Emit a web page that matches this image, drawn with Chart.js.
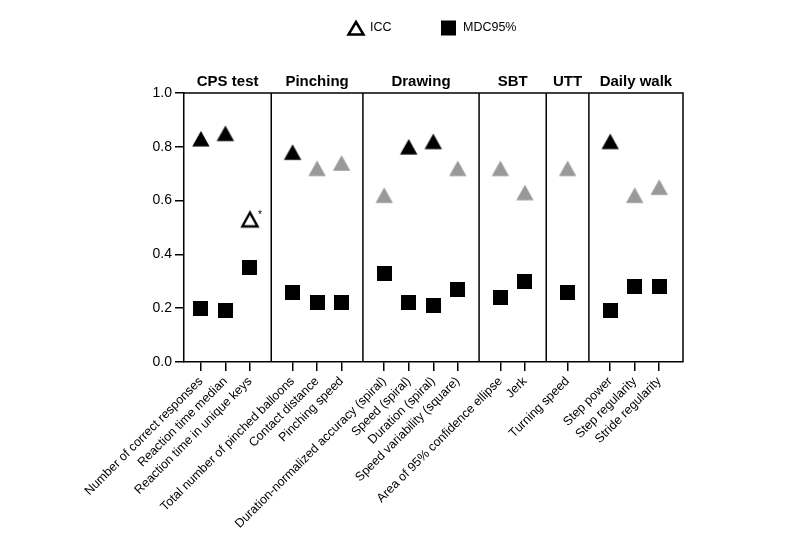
<!DOCTYPE html>
<html>
<head>
<meta charset="utf-8">
<script src="https://cdn.jsdelivr.net/npm/chart.js@4.4.1/dist/chart.umd.min.js"></script>
<style>
  html, body { margin: 0; padding: 0; background: #fff; }
  #wrap { width: 800px; height: 549px; }
</style>
</head>
<body>
<div id="wrap"><canvas id="myChart" width="800" height="549"></canvas></div>
<script>
// data
var groups = ['CPS test', 'Pinching', 'Drawing', 'SBT', 'UTT', 'Daily walk'];
var groupSizes = [3, 3, 4, 2, 1, 3];
var categories = [
    'Number of correct responses', 'Reaction time median', 'Reaction time in unique keys',
    'Total number of pinched balloons', 'Contact distance', 'Pinching speed',
    'Duration-normalized accuracy (spiral)', 'Speed (spiral)', 'Duration (spiral)', 'Speed variability (square)',
    'Area of 95% confidence ellipse', 'Jerk',
    'Turning speed',
    'Step power', 'Step regularity', 'Stride regularity'
];
var icc = [0.83, 0.85, 0.53, 0.78, 0.72, 0.74, 0.62, 0.80, 0.82, 0.72, 0.72, 0.63, 0.72, 0.82, 0.62, 0.65];
var mdc = [0.20, 0.19, 0.35, 0.26, 0.22, 0.22, 0.33, 0.22, 0.21, 0.27, 0.24, 0.30, 0.26, 0.19, 0.28, 0.28];
// 'black' / 'grey' / 'open' (open one carries an asterisk)
var iccKind = ['black', 'black', 'open', 'black', 'grey', 'grey', 'grey', 'black', 'black', 'grey', 'grey', 'grey', 'grey', 'black', 'grey', 'grey'];
var yTicks = [0, 0.2, 0.4, 0.6, 0.8, 1.0];

var groupGap = 0.74;
var fontFam = '"Liberation Sans", Arial, Helvetica, sans-serif';
Chart.defaults.font.family = fontFam;
Chart.defaults.color = '#000';

// x position of each category: index plus an extra gap per group boundary
var groupOf = [];
groupSizes.forEach(function(n, g) { for (var k = 0; k < n; k++) groupOf.push(g); });
var xPos = categories.map(function(c, i) { return i + groupOf[i] * groupGap; });

function markerCanvas(kind) {
    var c = document.createElement('canvas');
    var ctx = c.getContext('2d');
    if (kind === 'square') {
        c.width = 15; c.height = 15;
        ctx.fillStyle = '#000';
        ctx.fillRect(0, 0, 15, 15);
        return c;
    }
    c.width = 20; c.height = 20;
    ctx.beginPath();
    if (kind === 'open') {
        ctx.moveTo(10, 3.2); ctx.lineTo(17.6, 17); ctx.lineTo(2.4, 17); ctx.closePath();
        ctx.fillStyle = '#fff'; ctx.fill();
        ctx.lineWidth = 2.4; ctx.strokeStyle = '#000'; ctx.stroke();
    } else {
        ctx.moveTo(10, 2.3); ctx.lineTo(18.7, 17.7); ctx.lineTo(1.3, 17.7); ctx.closePath();
        ctx.fillStyle = kind === 'black' ? '#000' : '#999';
        ctx.fill();
    }
    return c;
}
var markers = { black: markerCanvas('black'), grey: markerCanvas('grey'), open: markerCanvas('open'), square: markerCanvas('square') };

var iccPoints = xPos.map(function(x, i) { return { x: x, y: icc[i] }; });
var mdcPoints = xPos.map(function(x, i) { return { x: x, y: mdc[i] }; });

var framePlugin = {
    id: 'frame',
    afterDraw: function(chart) {
        var ctx = chart.ctx;
        var a = chart.chartArea;
        var xs = chart.scales.x;
        ctx.save();
        ctx.strokeStyle = '#000';
        ctx.lineWidth = 1.5;
        ctx.beginPath();
        ctx.moveTo(a.left, a.top); ctx.lineTo(a.right, a.top); ctx.lineTo(a.right, a.bottom);
        ctx.stroke();

        // group dividers + titles
        var edges = [a.left];
        var start = 0;
        for (var g = 0; g < groupSizes.length - 1; g++) {
            var last = start + groupSizes[g] - 1;
            var mid = (xPos[last] + xPos[last + 1]) / 2;
            edges.push(xs.getPixelForValue(mid));
            start += groupSizes[g];
        }
        edges.push(a.right);
        for (var e = 1; e < edges.length - 1; e++) {
            ctx.beginPath();
            ctx.moveTo(edges[e], a.top); ctx.lineTo(edges[e], a.bottom);
            ctx.stroke();
        }
        ctx.fillStyle = '#000';
        ctx.font = 'bold 15px ' + fontFam;
        ctx.textAlign = 'center';
        ctx.textBaseline = 'alphabetic';
        groups.forEach(function(name, i) {
            ctx.fillText(name, (edges[i] + edges[i + 1]) / 2, a.top - 7);
        });

        // asterisk on the open triangle
        var pts = chart.getDatasetMeta(0).data;
        ctx.font = '10px ' + fontFam;
        ctx.textAlign = 'left';
        iccKind.forEach(function(k, i) {
            if (k === 'open') ctx.fillText('*', pts[i].x + 8, pts[i].y - 1);
        });

        // legend
        ctx.font = '12.5px ' + fontFam;
        ctx.textBaseline = 'middle';
        ctx.lineWidth = 2.5;
        ctx.beginPath();
        ctx.moveTo(356, 22); ctx.lineTo(363.5, 34.5); ctx.lineTo(348.5, 34.5); ctx.closePath();
        ctx.stroke();
        ctx.fillText(chart.data.datasets[0].label, 370, 28);
        ctx.fillRect(441, 20.5, 15, 15);
        ctx.fillText(chart.data.datasets[1].label, 463, 28);
        ctx.restore();
    }
};

var ctx = document.getElementById('myChart').getContext('2d');
var myChart = new Chart(ctx, {
    type: 'scatter',
    data: {
        datasets: [{
            label: 'ICC',
            data: iccPoints,
            pointStyle: iccKind.map(function(k) { return markers[k]; }),
            pointRadius: 10
        }, {
            label: 'MDC95%',
            data: mdcPoints,
            pointStyle: markers.square,
            pointRadius: 8
        }]
    },
    options: {
        responsive: false,
        animation: false,
        events: [],
        layout: { padding: { top: 93, right: 117, left: 0, bottom: 0 } },
        plugins: {
            legend: { display: false },
            tooltip: { enabled: false }
        },
        scales: {
            x: {
                type: 'linear',
                min: -0.69,
                max: 19.67,
                afterBuildTicks: function(scale) {
                    scale.ticks = xPos.map(function(v) { return { value: v }; });
                },
                afterFit: function(scale) { scale.height = 187; },
                grid: { drawOnChartArea: false, tickLength: 9, color: '#000', lineWidth: 1.5 },
                border: { display: true, color: '#000', width: 1.5 },
                ticks: {
                    autoSkip: false,
                    minRotation: 45,
                    maxRotation: 45,
                    padding: 3,
                    font: { size: 12.5 },
                    callback: function(v, i) { return categories[i]; }
                }
            },
            y: {
                min: 0,
                max: 1,
                afterBuildTicks: function(scale) {
                    scale.ticks = yTicks.map(function(v) { return { value: v }; });
                },
                afterFit: function(scale) { scale.width = 184; },
                grid: { drawOnChartArea: false, tickLength: 9, color: '#000', lineWidth: 1.5 },
                border: { display: true, color: '#000', width: 1.5 },
                ticks: {
                    padding: 3,
                    font: { size: 14 },
                    callback: function(v) { return Number(v).toFixed(1); }
                }
            }
        }
    },
    plugins: [framePlugin]
});
</script>
</body>
</html>
